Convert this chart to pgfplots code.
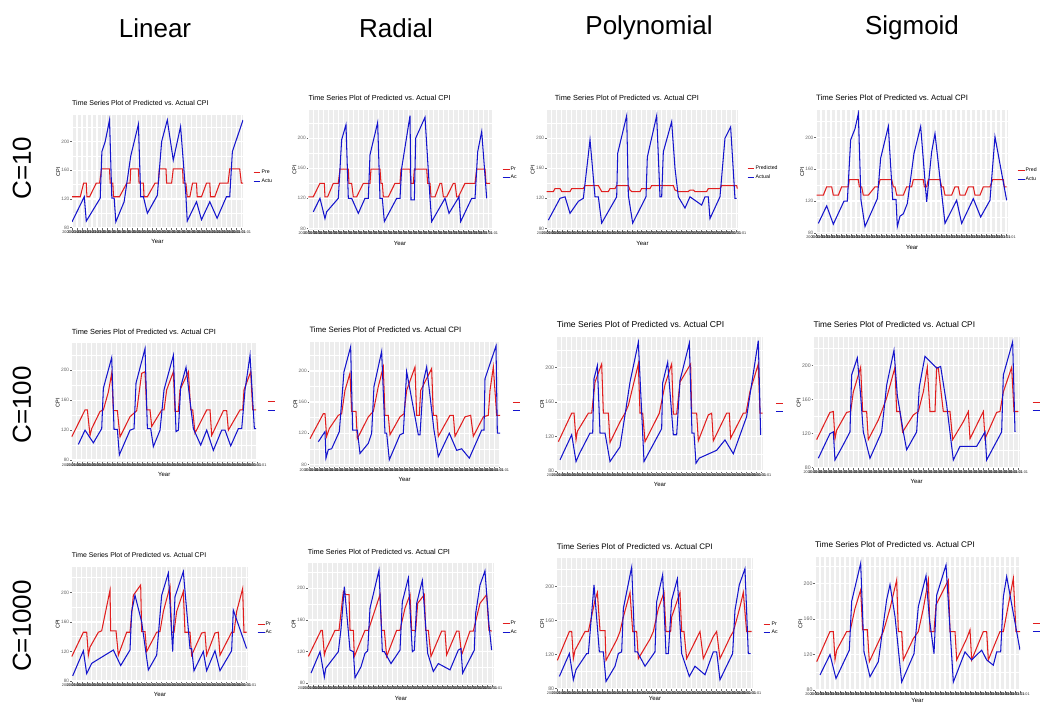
\documentclass[border=0pt]{standalone}
\usepackage{fontspec}
\setmainfont{Liberation Sans}
\usepackage{pgfplots}
\pgfplotsset{compat=1.18}
\definecolor{ggred}{RGB}{225,30,30}
\definecolor{ggblue}{RGB}{20,20,205}
\definecolor{ggbg}{RGB}{237,237,237}
\pgfplotsset{
  panel/.style={
    scale only axis, anchor=north west,
    axis x line*=bottom, axis y line*=left,
    axis line style={draw=none},
    axis background/.style={fill=ggbg},
    tick align=outside, major tick length=1.6pt, minor tick length=0pt,
    tick style={black!60, line width=0.35pt},
    ytick={80,120,160,200}, minor ytick={100,140,180,220},
    xmajorgrids, ymajorgrids, yminorgrids,
    major grid style={white, line width=1.2pt},
    minor grid style={white, line width=0.45pt},
    /pgf/number format/assume math mode=true,
    yticklabel style={font=\fontsize{4.8}{5}\selectfont, text=black!60, inner sep=0.8pt},
    xticklabel={2000-01-01},
    xticklabel style={font=\fontsize{3.8}{4}\selectfont, text=black!80, inner sep=0.3pt},
    xlabel=Year, ylabel=CPI,
    xlabel style={font=\fontsize{6}{6}\selectfont, at={(axis description cs:0.5,0)}, anchor=north, yshift=-7.5pt},
    ylabel style={font=\fontsize{5.5}{6}\selectfont},
    ylabel shift=-3pt,
    title={Time Series Plot of Predicted vs.\ Actual CPI},
    title style={at={(0,1)}, anchor=south west, inner sep=0pt, yshift=3pt},
    legend style={draw=none, fill=none, anchor=west, inner sep=0pt,
      font=\fontsize{5.2}{6}\selectfont, row sep=2pt, nodes={inner sep=0.6pt}},
    legend cell align=left,
    legend image code/.code={\draw[##1, line width=1.1pt] (0.6pt,0pt) -- (7.4pt,0pt);},
  },
  pred/.style={ggred, line width=1.05pt, no markers},
  act/.style={ggblue, line width=1.05pt, no markers},
}

\begin{document}
\begin{tikzpicture}
\useasboundingbox (0,0) rectangle (1042pt,-702pt);
\fill[white] (0,0) rectangle (1042pt,-702pt);

\node[font=\fontsize{26}{30}\selectfont] at (155pt,-28pt) {Linear};
\node[font=\fontsize{26}{30}\selectfont] at (396pt,-28pt) {Radial};
\node[font=\fontsize{26}{30}\selectfont] at (649pt,-28pt) {Polynomial};
\node[font=\fontsize{26}{30}\selectfont] at (912pt,-28pt) {Sigmoid};
\node[font=\fontsize{26}{30}\selectfont, rotate=90] at (22pt,-168pt) {C=10};
\node[font=\fontsize{26}{30}\selectfont, rotate=90] at (22pt,-405pt) {C=100};
\node[font=\fontsize{26}{30}\selectfont, rotate=90] at (22pt,-626pt) {C=1000};

% ---- C=10 ----
\begin{axis}[panel, at={(72pt,-115pt)}, width=171pt, height=113.3pt,
  xmin=35, xmax=550, ymin=79, ymax=237, xtick={35,50,...,550},
  title style={font=\fontsize{7}{8}\selectfont},
  legend style={at={(1.058,0.453)}}]
\addplot[pred] coordinates {(35,123) (60,123) (70,142) (78,142) (80,123) (88,123) (108,142) (118,142) (124,162) (148,162) (150,142) (158,142) (160,123) (178,123) (200,142) (210,142) (212,162) (235,162) (237,142) (250,142) (252,123) (262,123) (285,142) (295,142) (298,162) (318,162) (320,142) (335,142) (340,162) (368,162) (370,142) (378,142) (382,123) (390,123) (398,142) (410,142) (412,123) (425,123) (440,142) (450,142) (452,123) (465,123) (480,142) (505,142) (510,162) (540,162) (545,142) (550,142)};
\addplot[act] coordinates {(35,88) (72,123) (78,89) (120,121) (125,186) (135,200) (148,230) (155,121) (162,121) (167,88) (192,116) (212,180) (235,224) (242,123) (250,123) (262,100) (292,125) (305,200) (322,230) (340,174) (362,221) (378,125) (382,89) (410,116) (425,91) (450,116) (472,93) (500,123) (510,123) (518,186) (550,230)};
\legend{Pre,Actu}
\end{axis}

\begin{axis}[panel, at={(308.3pt,-110pt)}, width=183.4pt, height=120pt,
  xmin=70, xmax=620, ymin=77.8, ymax=237.6, xtick={70,85,...,620},
  title style={font=\fontsize{7.3}{8}\selectfont},
  legend style={at={(1.056,0.471)}}]
\addplot[pred] coordinates {(70,122) (85,122) (105,140) (118,140) (120,122) (128,122) (145,140) (160,140) (165,159) (190,159) (192,140) (200,140) (205,122) (215,122) (235,140) (255,140) (258,159) (285,159) (288,140) (292,140) (295,122) (310,122) (330,140) (345,140) (348,159) (375,159) (378,140) (385,140) (388,159) (425,159) (428,140) (435,140) (438,122) (450,122) (465,140) (470,140) (475,122) (485,122) (505,140) (510,140) (515,122) (520,122) (540,140) (570,140) (575,159) (600,159) (603,140) (615,140)};
\addplot[act] coordinates {(85,102) (105,120) (120,93) (125,102) (160,120) (170,198) (183,218) (190,120) (200,120) (220,100) (240,120) (250,120) (255,178) (278,221) (285,120) (292,120) (298,89) (335,120) (345,120) (350,160) (375,230) (378,118) (388,118) (392,200) (420,228) (435,120) (440,89) (480,120) (492,100) (522,122) (527,89) (560,120) (570,120) (578,182) (590,209) (605,120)};
\legend{Pr,Ac}
\end{axis}

\begin{axis}[panel, at={(546.7pt,-110pt)}, width=191.6pt, height=120pt,
  xmin=80, xmax=655, ymin=77.8, ymax=237.6, xtick={80,95,...,655},
  title style={font=\fontsize{7.4}{8}\selectfont, xshift=8pt},
  legend style={at={(1.045,0.475)}}]
\addplot[pred] coordinates {(80,129) (100,129) (105,133) (120,133) (125,129) (150,129) (155,133) (190,133) (195,137) (235,137) (240,133) (245,129) (265,129) (270,133) (285,133) (290,137) (325,137) (330,131) (335,129) (360,129) (365,133) (390,133) (395,137) (460,137) (465,131) (475,129) (505,129) (510,131) (520,131) (525,129) (560,129) (565,133) (600,133) (605,137) (650,137) (652,133)};
\addplot[act] coordinates {(85,91) (120,120) (135,122) (150,100) (175,116) (190,120) (210,198) (225,122) (235,122) (245,87) (290,122) (293,180) (320,230) (325,124) (338,87) (378,122) (382,175) (410,230) (420,122) (425,122) (430,182) (455,222) (465,160) (475,122) (495,107) (510,122) (545,111) (555,122) (565,122) (570,93) (600,122) (615,200) (632,215) (645,120) (650,120)};
\legend{Predicted,Actual}
\end{axis}

\begin{axis}[panel, at={(816pt,-110pt)}, width=192.3pt, height=124pt,
  xmin=78, xmax=655, ymin=78.6, ymax=234.6, xtick={78,93,...,655},
  title style={font=\fontsize{7.8}{8}\selectfont},
  legend style={at={(1.045,0.476)}}]
\addplot[pred] coordinates {(80,127.5) (100,127.5) (110,138) (125,138) (130,127.5) (145,127.5) (155,138) (175,138) (178,147) (205,147) (208,138) (215,138) (220,127.5) (235,127.5) (255,138) (265,138) (270,147) (305,147) (310,138) (315,138) (320,127.5) (340,127.5) (350,138) (365,138) (370,147) (400,147) (403,138) (410,138) (415,147) (450,147) (455,138) (460,138) (465,127.5) (485,127.5) (495,138) (505,138) (510,127.5) (525,127.5) (535,138) (550,138) (555,127.5) (570,127.5) (580,138) (600,138) (608,147) (640,147) (643,138) (650,138)};
\addplot[act] coordinates {(85,92) (110,114) (130,91) (162,120) (172,120) (182,197) (195,211) (205,230) (213,121) (225,88) (262,123) (272,174) (295,214) (308,122) (318,122) (322,88) (330,101) (340,104) (352,117) (372,180) (392,214) (410,119) (425,182) (435,205) (465,92) (500,121) (515,92) (550,123) (572,100) (600,121) (615,201) (650,121)};
\legend{Pred,Actu}
\end{axis}

% ---- C=100 ----
\begin{axis}[panel, at={(71.7pt,-343.3pt)}, width=185pt, height=118.4pt,
  xmin=35, xmax=590, ymin=77.8, ymax=236.1, xtick={35,50,...,590},
  title style={font=\fontsize{7.4}{8}\selectfont},
  legend style={at={(1.056,0.47)}}]
\addplot[pred] coordinates {(35,111) (75,147) (82,147) (90,113) (95,122) (120,145) (130,147) (145,171) (155,196) (160,146) (172,146) (180,111) (210,138) (230,146) (245,196) (255,198) (260,147) (270,147) (275,125) (305,147) (312,147) (320,174) (340,198) (345,145) (355,145) (360,174) (385,198) (392,147) (398,147) (405,116) (440,147) (450,147) (455,113) (490,146) (500,146) (505,120) (540,147) (548,147) (552,174) (572,198) (578,147) (588,147)};
\addplot[act] coordinates {(55,101) (75,120) (100,103) (125,122) (130,176) (155,217) (162,121) (172,121) (178,87) (210,120) (222,122) (228,183) (255,229) (262,122) (272,122) (280,98) (300,120) (312,174) (340,220) (348,118) (355,120) (362,178) (378,204) (400,122) (422,100) (440,120) (460,93) (485,120) (495,120) (512,99) (535,122) (545,122) (555,174) (570,220) (583,122) (588,122)};
\legend{\phantom{P},\phantom{A}}
\end{axis}

\begin{axis}[panel, at={(309.3pt,-341.7pt)}, width=190.7pt, height=125pt,
  xmin=88, xmax=660, ymin=77, ymax=237.5, xtick={88,103,...,660},
  title style={font=\fontsize{7.8}{8}\selectfont},
  legend style={at={(1.063,0.482)}}]
\addplot[pred] coordinates {(90,113) (120,137) (130,145) (135,145) (140,116) (148,126) (175,143) (185,145) (195,175) (210,197) (215,148) (228,148) (232,113) (265,141) (280,148) (295,180) (310,205) (315,143) (325,143) (330,118) (360,141) (372,145) (380,175) (405,205) (410,143) (418,143) (422,175) (455,203) (460,143) (470,143) (475,116) (510,143) (520,143) (525,116) (555,141) (572,143) (580,116) (610,141) (625,143) (630,175) (640,205) (650,143) (660,143)};
\addplot[act] coordinates {(115,109) (135,122) (138,88) (145,99) (155,100) (178,122) (192,199) (212,231) (218,124) (232,124) (240,94) (265,107) (275,120) (282,180) (305,225) (315,120) (320,120) (328,86) (360,118) (370,120) (380,199) (415,118) (420,118) (430,186) (440,205) (462,124) (475,90) (508,120) (530,98) (545,100) (568,88) (605,124) (612,124) (615,190) (648,232) (652,120) (662,120)};
\legend{\phantom{P},\phantom{A}}
\end{axis}

\begin{axis}[panel, at={(556.7pt,-336.7pt)}, width=206.6pt, height=135pt,
  xmin=50, xmax=670, ymin=79.2, ymax=235.6, xtick={50,65,...,670},
  title style={font=\fontsize{8.6}{9}\selectfont},
  yticklabel style={font=\fontsize{5.2}{5}\selectfont},
  legend style={at={(1.057,0.476)}}]
\addplot[pred] coordinates {(55,114) (95,147) (102,147) (108,116) (112,126) (145,147) (155,147) (165,183) (185,204) (190,147) (205,147) (210,113) (240,137) (255,147) (265,156) (295,204) (300,147) (308,147) (315,114) (345,137) (358,147) (375,180) (395,204) (400,146) (410,146) (420,183) (452,204) (455,147) (470,147) (475,115) (505,145) (515,147) (520,115) (560,147) (568,147) (572,118) (610,147) (618,147) (630,172) (655,204) (660,147) (668,147)};
\addplot[act] coordinates {(60,93) (95,122) (108,91) (118,100) (150,124) (158,124) (162,187) (172,202) (180,124) (195,124) (210,91) (240,108) (255,145) (270,183) (295,229) (312,91) (365,129) (368,182) (383,206) (400,122) (410,122) (420,185) (448,228) (456,124) (462,124) (468,89) (478,95) (530,104) (555,116) (580,100) (620,143) (655,231) (662,122)};
\legend{\phantom{P},\phantom{A}}
\end{axis}

\begin{axis}[panel, at={(813.3pt,-336.7pt)}, width=206.7pt, height=131.6pt,
  xmin=70, xmax=690, ymin=79.2, ymax=234, xtick={70,85,...,690},
  title style={font=\fontsize{8.3}{9}\selectfont},
  yticklabel style={font=\fontsize{5.2}{5}\selectfont},
  legend style={at={(1.058,0.47)}}]
\addplot[pred] coordinates {(80,113) (120,145) (130,146) (135,114) (140,124) (170,145) (182,146) (190,169) (212,198) (218,146) (230,146) (235,113) (265,136) (275,146) (290,162) (315,198) (320,146) (330,146) (338,122) (370,142) (385,146) (400,169) (412,198) (420,146) (435,146) (440,198) (445,197) (460,146) (480,146) (488,113) (520,134) (535,146) (540,114) (570,138) (580,146) (585,114) (620,145) (630,146) (640,169) (665,198) (672,146) (685,146)};
\addplot[act] coordinates {(85,91) (120,120) (130,122) (135,89) (160,107) (180,122) (185,189) (202,209) (212,165) (220,122) (240,91) (275,122) (290,177) (312,218) (322,165) (340,122) (350,101) (380,122) (388,175) (405,211) (440,197) (452,199) (470,154) (490,89) (510,105) (560,105) (585,122) (590,89) (635,122) (640,189) (668,228) (675,122)};
\legend{\phantom{P},\phantom{A}}
\end{axis}

% ---- C=1000 ----
\begin{axis}[panel, at={(71.7pt,-566.7pt)}, width=176.6pt, height=115pt,
  xmin=65, xmax=595, ymin=79.1, ymax=234.7, xtick={65,80,...,595},
  title style={font=\fontsize{6.9}{8}\selectfont},
  legend style={at={(1.049,0.463)}}]
\addplot[pred] coordinates {(65,113) (100,146) (110,146) (115,115) (120,126) (145,146) (155,148) (180,203) (182,148) (198,148) (205,115) (230,146) (240,146) (250,196) (272,210) (275,147) (285,147) (290,120) (320,146) (330,147) (340,174) (360,208) (365,146) (372,146) (380,174) (400,201) (405,146) (420,146) (425,115) (455,145) (465,146) (470,115) (495,145) (505,146) (510,115) (545,146) (552,146) (560,174) (578,205) (582,146) (590,146)};
\addplot[act] coordinates {(68,87) (100,121) (110,90) (125,104) (190,122) (212,101) (240,122) (245,174) (255,196) (275,160) (295,95) (320,115) (335,196) (355,226) (368,120) (375,194) (400,228) (420,124) (425,124) (432,94) (460,120) (470,94) (495,121) (510,94) (545,121) (550,176) (590,124)};
\legend{Pr,Ac}
\end{axis}

\begin{axis}[panel, at={(307.7pt,-563.3pt)}, width=186.6pt, height=121.7pt,
  xmin=68, xmax=628, ymin=77.9, ymax=231.6, xtick={68,83,...,628},
  title style={font=\fontsize{7.3}{8}\selectfont},
  legend style={at={(1.041,0.468)}}]
\addplot[pred] coordinates {(70,114) (108,147) (112,147) (118,116) (122,122) (150,147) (162,147) (175,196) (182,192) (192,192) (195,147) (205,147) (208,114) (240,147) (250,147) (285,192) (290,147) (298,147) (305,114) (335,147) (345,147) (360,175) (375,192) (380,147) (392,147) (398,181) (418,192) (422,147) (430,147) (438,114) (470,146) (480,146) (485,116) (515,146) (522,146) (530,116) (555,146) (565,146) (585,181) (605,192) (612,147) (620,146)};
\addplot[act] coordinates {(78,93) (105,120) (118,88) (122,99) (160,120) (168,149) (178,202) (195,122) (205,120) (210,87) (228,101) (240,118) (248,121) (255,175) (282,223) (292,120) (298,120) (318,105) (345,122) (352,183) (370,213) (382,120) (388,122) (395,181) (412,210) (428,118) (445,95) (460,105) (495,97) (520,122) (528,124) (533,93) (568,122) (572,168) (585,204) (600,222) (612,154) (620,122)};
\legend{Pr,Ac}
\end{axis}

\begin{axis}[panel, at={(556.7pt,-558.3pt)}, width=196.6pt, height=131pt,
  xmin=50, xmax=640, ymin=78.8, ymax=233.3, xtick={50,65,...,640},
  title style={font=\fontsize{8}{9}\selectfont},
  yticklabel style={font=\fontsize{5.2}{5}\selectfont},
  xlabel style={yshift=3.5pt},
  legend style={at={(1.049,0.464)}}]
\addplot[pred] coordinates {(52,113) (88,147) (95,147) (100,115) (105,125) (135,147) (145,147) (165,184) (172,193) (180,148) (195,148) (198,113) (230,137) (240,147) (250,164) (270,193) (278,147) (290,147) (295,115) (330,138) (340,147) (355,174) (372,193) (378,147) (392,147) (395,164) (420,193) (425,147) (432,147) (440,115) (470,139) (480,147) (490,115) (520,141) (530,147) (540,115) (570,140) (580,147) (590,161) (600,176) (610,193) (620,147) (635,147)};
\addplot[act] coordinates {(58,94) (88,121) (100,90) (108,102) (140,121) (145,121) (162,202) (178,123) (190,123) (198,88) (225,106) (235,121) (245,123) (250,174) (275,223) (285,123) (292,123) (315,106) (345,123) (350,182) (368,214) (378,121) (385,121) (395,184) (412,209) (425,121) (448,94) (465,106) (495,96) (520,123) (530,123) (540,90) (578,121) (585,172) (598,202) (615,221) (625,121) (632,121)};
\legend{Pr,Ac}
\end{axis}

\begin{axis}[panel, at={(815pt,-556.7pt)}, width=205pt, height=134.3pt,
  xmin=75, xmax=690, ymin=78.9, ymax=230.4, xtick={75,90,...,690},
  title style={font=\fontsize{8.2}{9}\selectfont},
  yticklabel style={font=\fontsize{5.2}{5}\selectfont},
  xlabel style={yshift=3.5pt},
  legend style={at={(1.059,0.473)}}]
\addplot[pred] coordinates {(80,112) (120,146) (130,146) (135,114) (140,125) (170,146) (180,146) (195,172) (212,193) (218,148) (232,148) (238,112) (270,138) (280,146) (300,172) (320,204) (325,146) (335,146) (340,114) (370,138) (385,146) (400,172) (415,204) (420,146) (432,146) (438,176) (475,204) (480,146) (495,146) (500,114) (530,138) (540,148) (545,114) (580,146) (590,146) (595,114) (630,146) (640,146) (655,176) (670,206) (678,146) (690,146)};
\addplot[act] coordinates {(90,97) (120,120) (138,93) (178,125) (185,180) (212,223) (222,123) (240,95) (265,112) (290,182) (300,199) (315,163) (335,89) (372,121) (385,174) (408,209) (418,161) (432,121) (440,187) (468,221) (490,89) (525,123) (545,114) (575,125) (590,114) (610,108) (620,123) (632,123) (640,185) (650,208) (690,125)};
\legend{\phantom{P},\phantom{A}}
\end{axis}
\end{tikzpicture}
\end{document}
